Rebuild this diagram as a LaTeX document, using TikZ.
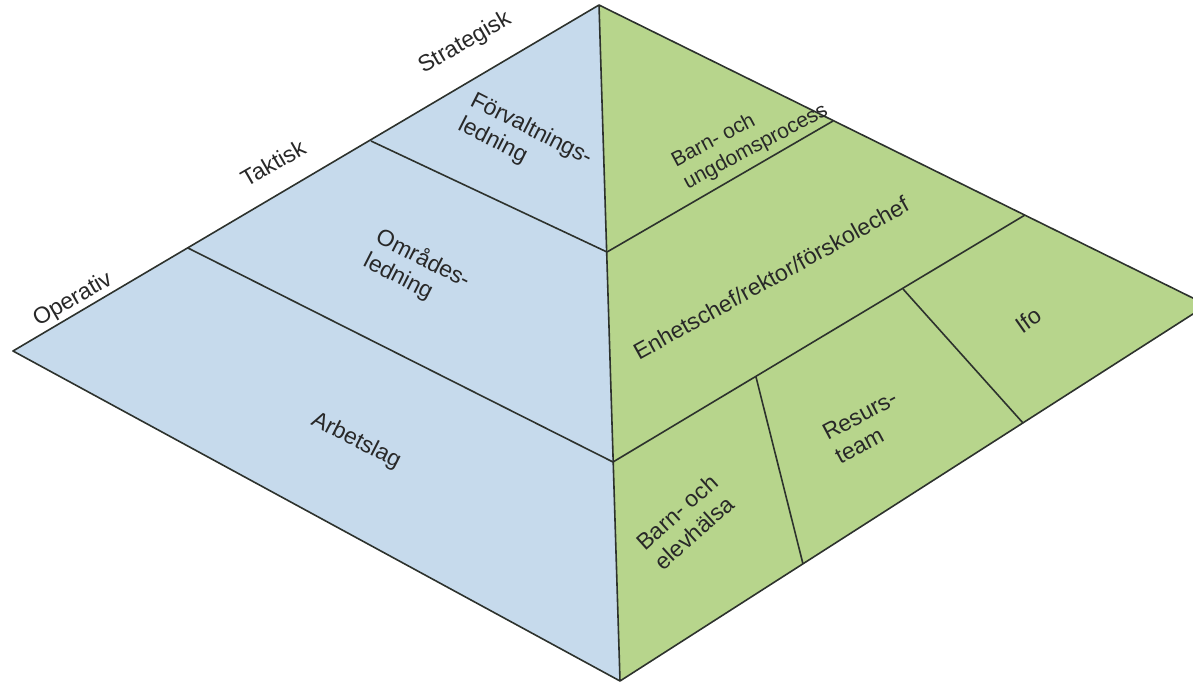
\documentclass[tikz,border=0pt]{standalone}
\usepackage{fontspec}
\setmainfont{Liberation Sans}
\definecolor{faceblue}{RGB}{198,218,236}
\definecolor{facegreen}{RGB}{183,213,140}
\definecolor{edge}{RGB}{45,50,45}
\definecolor{txt}{RGB}{40,40,40}
\begin{document}
\begin{tikzpicture}[x=1pt,y=-1pt,
  facel/.style={fill=faceblue},
  facer/.style={fill=facegreen},
  ln/.style={draw=edge,line width=1.6pt,line join=round},
  lbl/.style={font=\fontsize{23}{27}\selectfont,text=txt,align=left,inner sep=0pt},
  lblsmall/.style={lbl,font=\fontsize{21}{25}\selectfont}]
\useasboundingbox (0,0) rectangle (1193,683);
\clip (0,0) rectangle (1193,683);
% corners
\coordinate (A) at (599,5);
\coordinate (L) at (13,351);
\coordinate (B) at (620,681);
\coordinate (R) at (1207,305);
\coordinate (D1L) at (371,141);
\coordinate (D1C) at (607,252);
\coordinate (D2L) at (188,248);
\coordinate (D2C) at (613,462);
\coordinate (E1R) at (833,121);
\coordinate (E2R) at (1025,215);
\coordinate (F1) at (756,377);
\coordinate (F1B) at (803,564);
\coordinate (G1) at (903,289);
\coordinate (G1B) at (1023,423);
% faces
\fill[facel] (A) -- (L) -- (B) -- cycle;
\fill[facer] (A) -- (R) -- (B) -- cycle;
% dividers
\draw[ln] (D1L) -- (D1C) -- (E1R);
\draw[ln] (D2L) -- (D2C) -- (E2R);
\draw[ln] (F1) -- (F1B);
\draw[ln] (G1) -- (G1B);
% outline
\draw[ln] (A) -- (L) -- (B) -- (R) -- cycle;
\draw[ln] (A) -- (B);
% labels
\node[lbl,rotate=30] (strat) at (465,43) {Strategisk};
\node[lbl,rotate=30] (takt) at (273,163) {Taktisk};
\node[lbl,rotate=30] (oper) at (73,300) {Operativ};
\node[lbl,rotate=-27] (forv) at (525,142) {Förvaltnings-\\ledning};
\node[lbl,rotate=-27] (omr) at (417,271) {Områdes-\\ledning};
\node[lbl,rotate=-27] (arb) at (356,441) {Arbetslag};
\node[lblsmall,rotate=28] (bup) at (750,136) {Barn- och\\ungdomsprocess};
\node[lbl,rotate=29] (enh) at (771,278) {Enhetschef/rektor/förskolechef};
\node[lbl,rotate=35] (ifo) at (1028,320) {Ifo};
\node[lbl,rotate=28] (res) at (866,427) {Resurs-\\team};
\node[lbl,rotate=42] (beh) at (686,522) {Barn- och\\elevhälsa};
\end{tikzpicture}
\end{document}
